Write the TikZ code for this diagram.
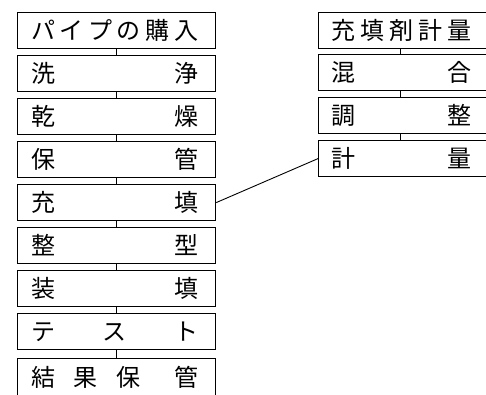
\documentclass[tikz,border=0pt]{standalone}
\usepackage{fontspec}
\newfontfamily\jp{Noto Sans CJK JP}
\tikzset{
  lbox/.style={draw, line width=1.2pt, rectangle, minimum width=198pt, minimum height=36pt, inner sep=0pt, anchor=north west, font=\jp\fontsize{24}{24}\selectfont},
  rbox/.style={draw, line width=1.2pt, rectangle, minimum width=182pt, minimum height=36pt, inner sep=0pt, anchor=north west, font=\jp\fontsize{24}{24}\selectfont},
  conn/.style={line width=0.9pt}
}
\newcommand{\ltxt}[1]{\makebox[167pt]{#1}\hspace*{4pt}}
\newcommand{\rtxt}[1]{\makebox[140pt]{#1}\hspace*{16pt}}
\begin{document}
\begin{tikzpicture}[x=1pt,y=-1pt]
\clip (0,0) rectangle (486,394);
\fill[white] (0,0) rectangle (486,394);
% left column
\node[lbox] (l1) at (17,12)  {\ltxt{パ\hfill イ\hfill プ\hfill の\hfill 購\hfill 入}};
\node[lbox] (l2) at (17,55)  {\ltxt{洗\hfill 浄}};
\node[lbox] (l3) at (17,98)  {\ltxt{乾\hfill 燥}};
\node[lbox] (l4) at (17,141) {\ltxt{保\hfill 管}};
\node[lbox] (l5) at (17,184) {\ltxt{充\hfill 填}};
\node[lbox] (l6) at (17,227) {\ltxt{整\hfill 型}};
\node[lbox] (l7) at (17,270) {\ltxt{装\hfill 填}};
\node[lbox] (l8) at (17,313) {\ltxt{テ\hfill ス\hfill ト}};
\node[lbox, minimum height=50pt, text depth=14pt] (l9) at (17,358) {\ltxt{結\hfill 果\hfill 保\hfill\hspace{10pt} 管}};
% right column
\node[rbox] (r1) at (318,12)  {\rtxt{充\hfill 填\hfill 剤\hfill 計\hfill 量}};
\node[rbox] (r2) at (318,54)  {\rtxt{混\hfill 合}};
\node[rbox] (r3) at (318,97)  {\rtxt{調\hfill 整}};
\node[rbox] (r4) at (318,140) {\rtxt{計\hfill 量}};
% connectors
\foreach \a/\b in {l1/l2,l2/l3,l3/l4,l4/l5,l5/l6,l6/l7,l7/l8,l8/l9}
  \draw[conn] (\a.south) -- (\b.north);
\foreach \a/\b in {r1/r2,r2/r3,r3/r4}
  \draw[conn] ([xshift=-9pt]\a.south) -- ([xshift=-9pt]\b.north);
\draw[conn] (l5.east) -- (r4.west);
\end{tikzpicture}
\end{document}
